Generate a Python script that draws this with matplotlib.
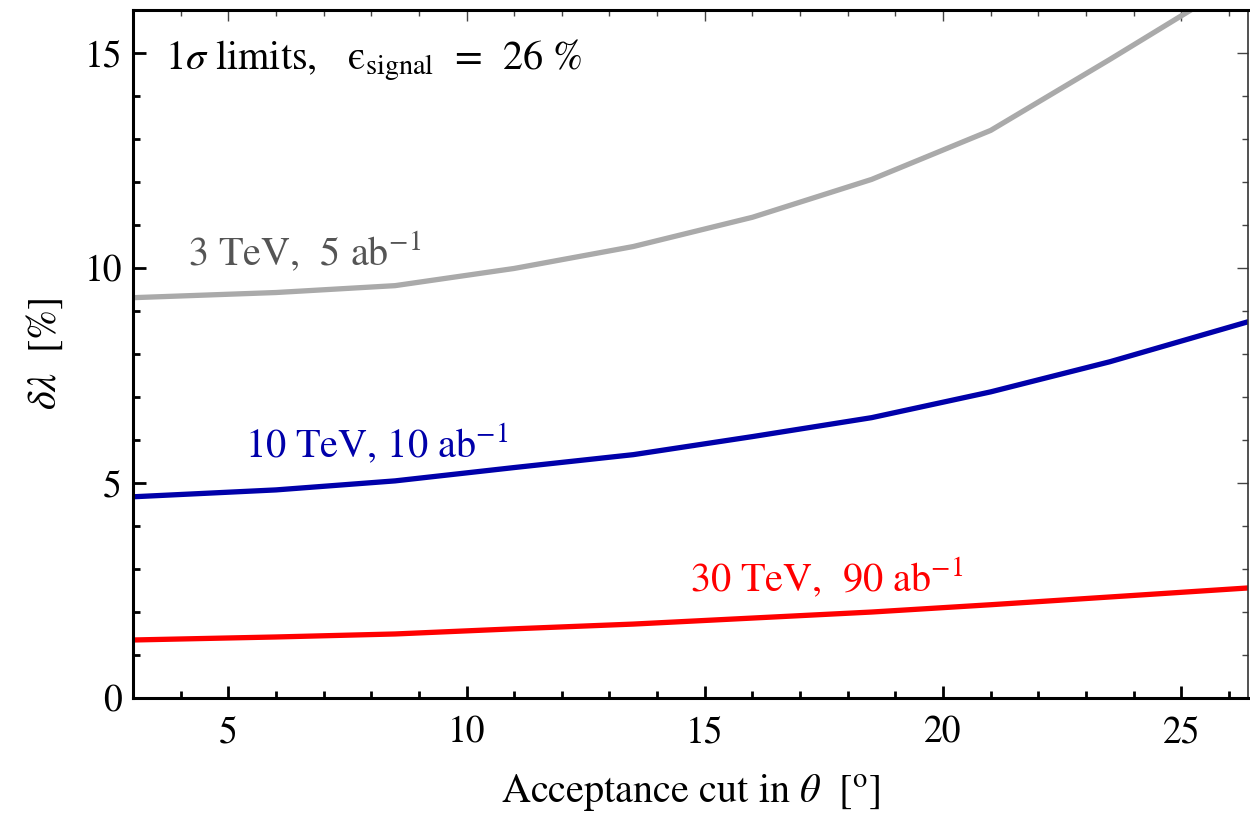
import numpy as np
import matplotlib
matplotlib.use("Agg")
import matplotlib.pyplot as plt
from matplotlib.ticker import MultipleLocator

plt.rcParams['font.family'] = ['STIXGeneral', 'DejaVu Serif']
plt.rcParams['mathtext.fontset'] = 'stix'

# acceptance cut (degrees) at the knots of each curve
theta = [3.0, 6.0, 8.5, 11.0, 13.5, 16.0, 18.5, 21.0, 23.5, 26.4]
theta_3 = [3.0, 6.0, 8.5, 11.0, 13.5, 16.0, 18.5, 21.0, 23.5, 25.2]

dl_3tev = [9.31, 9.43, 9.59, 9.99, 10.50, 11.18, 12.06, 13.2, 14.85, 16.0]
dl_10tev = [4.68, 4.84, 5.05, 5.36, 5.66, 6.08, 6.52, 7.12, 7.82, 8.75]
dl_30tev = [1.35, 1.42, 1.49, 1.61, 1.72, 1.86, 2.00, 2.17, 2.35, 2.56]

fig = plt.figure(figsize=(12.5, 8.13), dpi=100)
ax = fig.add_axes([0.1064, 0.1414, 0.892, 0.8463])

ax.plot(theta_3, dl_3tev, color='#aaaaaa', lw=3.8)
ax.plot(theta, dl_10tev, color='#0000aa', lw=3.8)
ax.plot(theta, dl_30tev, color='#ff0000', lw=3.8)

ax.set_xlim(3, 26.4)
ax.set_ylim(0, 16)

ax.xaxis.set_major_locator(MultipleLocator(5))
ax.xaxis.set_minor_locator(MultipleLocator(1))
ax.yaxis.set_major_locator(MultipleLocator(5))
ax.yaxis.set_minor_locator(MultipleLocator(1))

ax.tick_params(which='both', direction='in', labelsize=27, width=2.0, color='black', top=False, right=False)
ax.tick_params(which='major', length=9)
ax.tick_params(which='minor', length=5)
ax.tick_params(axis='x', pad=13)
ax.tick_params(axis='y', pad=8)

for s in ['left', 'bottom', 'top']:
    ax.spines[s].set_linewidth(2.2)
ax.spines['right'].set_linewidth(1.2)
ax.spines['right'].set_color('#333333')

# thinner ticks along top and right
top = ax.secondary_xaxis('top')
top.xaxis.set_major_locator(MultipleLocator(5))
top.xaxis.set_minor_locator(MultipleLocator(1))
top.tick_params(which='both', direction='in', labeltop=False, width=1.0, color='#444444')
top.tick_params(which='major', length=8)
top.tick_params(which='minor', length=4)
top.spines['top'].set_visible(False)

right = ax.secondary_yaxis('right')
right.yaxis.set_major_locator(MultipleLocator(5))
right.yaxis.set_minor_locator(MultipleLocator(1))
right.tick_params(which='both', direction='in', labelright=False, width=1.0, color='#444444')
right.tick_params(which='major', length=8)
right.tick_params(which='minor', length=4)
right.spines['right'].set_visible(False)

ax.set_xlabel(r'Acceptance cut in $\theta$  [$^{\rm o}$]', fontsize=29, labelpad=15)
ax.set_ylabel(r'$\delta\lambda$  [%]', fontsize=29, labelpad=14)

ax.text(3.67, 14.62, '1$\\sigma$ limits,   $\\mathrm{\u03f5}_{\\mathrm{signal}}$  =  26 %', fontsize=29, va='baseline')
ax.text(4.15, 10.06, r'3 TeV,  5 ab$^{-1}$', fontsize=29, color='#555555', va='baseline')
ax.text(5.35, 5.59, r'10 TeV, 10 ab$^{-1}$', fontsize=29, color='#0000aa', va='baseline')
ax.text(14.68, 2.49, r'30 TeV,  90 ab$^{-1}$', fontsize=29, color='#ff0000', va='baseline')

fig.savefig('out.png', dpi=100)
